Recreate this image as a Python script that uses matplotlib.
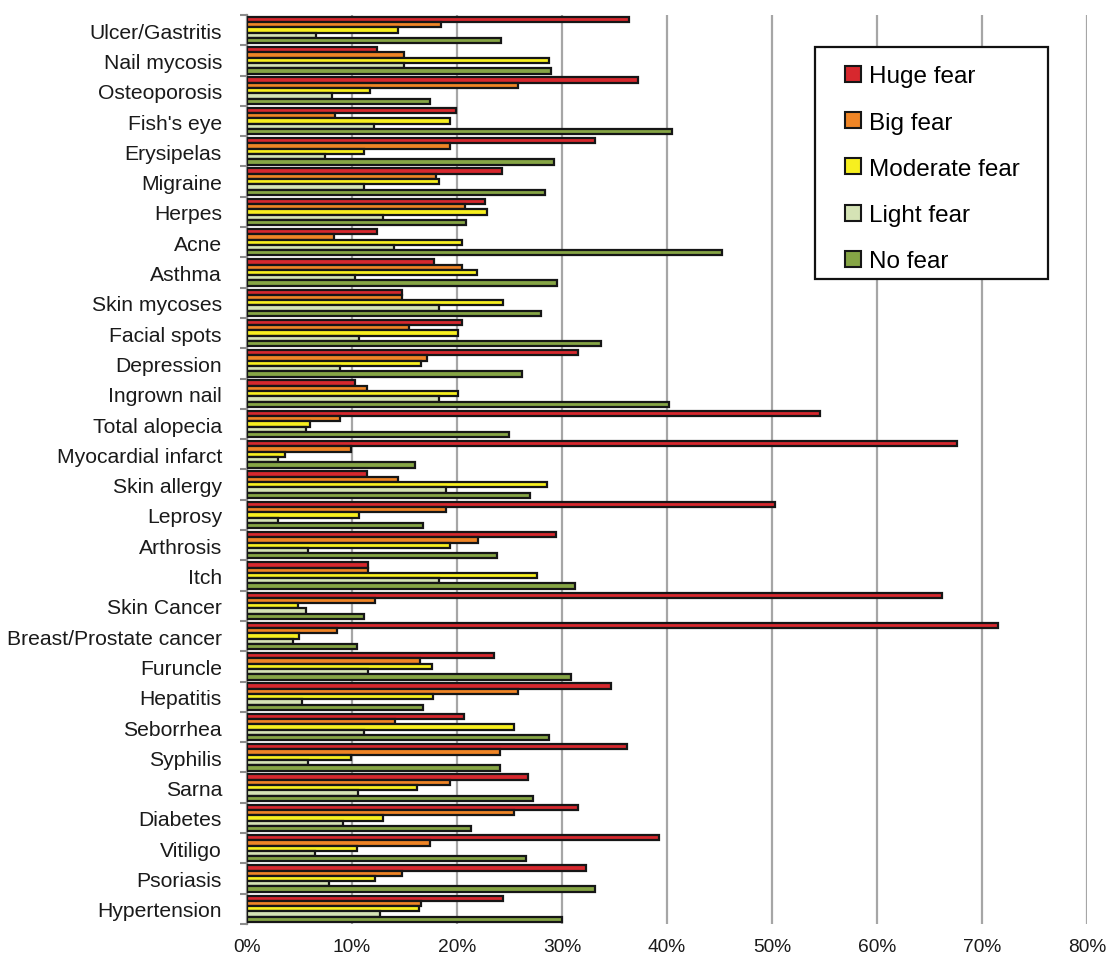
import numpy as np
import matplotlib
matplotlib.use("Agg")
import matplotlib.pyplot as plt
from matplotlib.patches import Rectangle
from matplotlib.ticker import FixedLocator, PercentFormatter

plt.rcParams["font.family"] = ["Liberation Sans", "DejaVu Sans"]

# ----------------------------------------------------------------------------
# Data (percent of respondents), listed top to bottom as drawn
# ----------------------------------------------------------------------------
categories = ["Ulcer/Gastritis", "Nail mycosis", "Osteoporosis", "Fish's eye",
              "Erysipelas", "Migraine", "Herpes", "Acne", "Asthma",
              "Skin mycoses", "Facial spots", "Depression", "Ingrown nail",
              "Total alopecia", "Myocardial infarct", "Skin allergy", "Leprosy",
              "Arthrosis", "Itch", "Skin Cancer", "Breast/Prostate cancer",
              "Furuncle", "Hepatitis", "Seborrhea", "Syphilis", "Sarna",
              "Diabetes", "Vitiligo", "Psoriasis", "Hypertension"]

huge_fear = [36.4, 12.4, 37.2, 19.9, 33.1, 24.3, 22.7, 12.4, 17.8, 14.8,
             20.5, 31.5, 10.3, 54.6, 67.6, 11.4, 50.3, 29.4, 11.5, 66.2,
             71.5, 23.5, 34.7, 20.7, 36.2, 26.8, 31.5, 39.2, 32.3, 24.4]
big_fear = [18.5, 15.0, 25.8, 8.4, 19.3, 18.0, 20.8, 8.3, 20.5, 14.8,
            15.4, 17.1, 11.4, 8.9, 9.9, 14.4, 19.0, 22.0, 11.5, 12.2,
            8.6, 16.5, 25.8, 14.1, 24.1, 19.3, 25.4, 17.4, 14.8, 16.6]
moderate_fear = [14.4, 28.8, 11.7, 19.3, 11.1, 18.3, 22.9, 20.5, 21.9, 24.4,
                 20.1, 16.6, 20.1, 6.0, 3.6, 28.6, 10.7, 19.3, 27.6, 4.9,
                 5.0, 17.6, 17.7, 25.4, 9.9, 16.2, 13.0, 10.5, 12.2, 16.4]
light_fear = [6.6, 15.0, 8.1, 12.1, 7.4, 11.1, 13.0, 14.0, 10.3, 18.3,
              10.7, 8.9, 18.3, 5.6, 3.0, 19.0, 3.0, 5.8, 18.3, 5.6,
              4.4, 11.5, 5.2, 11.1, 5.8, 10.6, 9.1, 6.5, 7.8, 12.7]
no_fear = [24.2, 29.0, 17.4, 40.5, 29.2, 28.4, 20.9, 45.2, 29.5, 28.0,
           33.7, 26.2, 40.2, 25.0, 16.0, 27.0, 16.8, 23.8, 31.2, 11.1,
           10.5, 30.9, 16.8, 28.8, 24.1, 27.2, 21.3, 26.6, 33.1, 30.0]

series = [
    ("Huge fear", huge_fear, "#D7282E"),
    ("Big fear", big_fear, "#EF8526"),
    ("Moderate fear", moderate_fear, "#F7EF1F"),
    ("Light fear", light_fear, "#D5E3B5"),
    ("No fear", no_fear, "#86A545"),
]

# ----------------------------------------------------------------------------
# Plot
# ----------------------------------------------------------------------------
fig = plt.figure(figsize=(11.09, 9.62), dpi=100)
ax = fig.add_axes([0.2227, 0.0385, 0.7575, 0.9449])

n_cat = len(categories)
n_ser = len(series)
bar_h = 0.175
y0 = np.arange(n_cat)
for si, (name, vals, color) in enumerate(series):
    offs = (si - (n_ser - 1) / 2) * bar_h
    ax.barh(y0 + offs, vals, height=bar_h, color=color, edgecolor="#161616",
            linewidth=1.6, label=name, zorder=3)

ax.set_ylim(n_cat - 0.5, -0.5)
ax.set_xlim(0, 80)

# category labels on minor ticks, boundary marks on major ticks
ax.yaxis.set_major_locator(FixedLocator(np.arange(n_cat + 1) - 0.5))
ax.yaxis.set_minor_locator(FixedLocator(y0))
ax.set_yticklabels([], minor=False)
ax.set_yticklabels(categories, minor=True)
ax.tick_params(axis="y", which="major", length=5, width=1.5, color="#8C8C8C")
ax.tick_params(axis="y", which="minor", length=0, pad=18, labelsize=15.2,
               labelcolor="#1A1A1A")

ax.set_xticks(np.arange(0, 81, 10))
ax.xaxis.set_major_formatter(PercentFormatter(decimals=0))
ax.tick_params(axis="x", length=0, pad=10, labelsize=13.8, labelcolor="#1A1A1A")

ax.grid(axis="x", color="#A6A6A6", linewidth=1.6, zorder=0)
ax.set_axisbelow(True)
for side in ["top", "right", "bottom"]:
    ax.spines[side].set_visible(False)
ax.spines["left"].set_color("#8C8C8C")
ax.spines["left"].set_linewidth(1.6)

# legend entries without their own frame, boxed by a separate rectangle
ax.add_patch(Rectangle((0.676, 0.7096), 0.2774, 0.2552, transform=ax.transAxes,
                       facecolor="white", edgecolor="#111111", linewidth=1.6,
                       zorder=5))
leg = ax.legend(loc="upper left", bbox_to_anchor=(0.7119, 0.9447),
                fontsize=17.5, frameon=False,
                handlelength=0.65, handleheight=0.65, handletextpad=0.35,
                labelspacing=1.0, borderpad=0, borderaxespad=0)
leg.set_zorder(6)
for h in leg.legend_handles:
    h.set_linewidth(1.5)

fig.savefig("out.png", dpi=100)
